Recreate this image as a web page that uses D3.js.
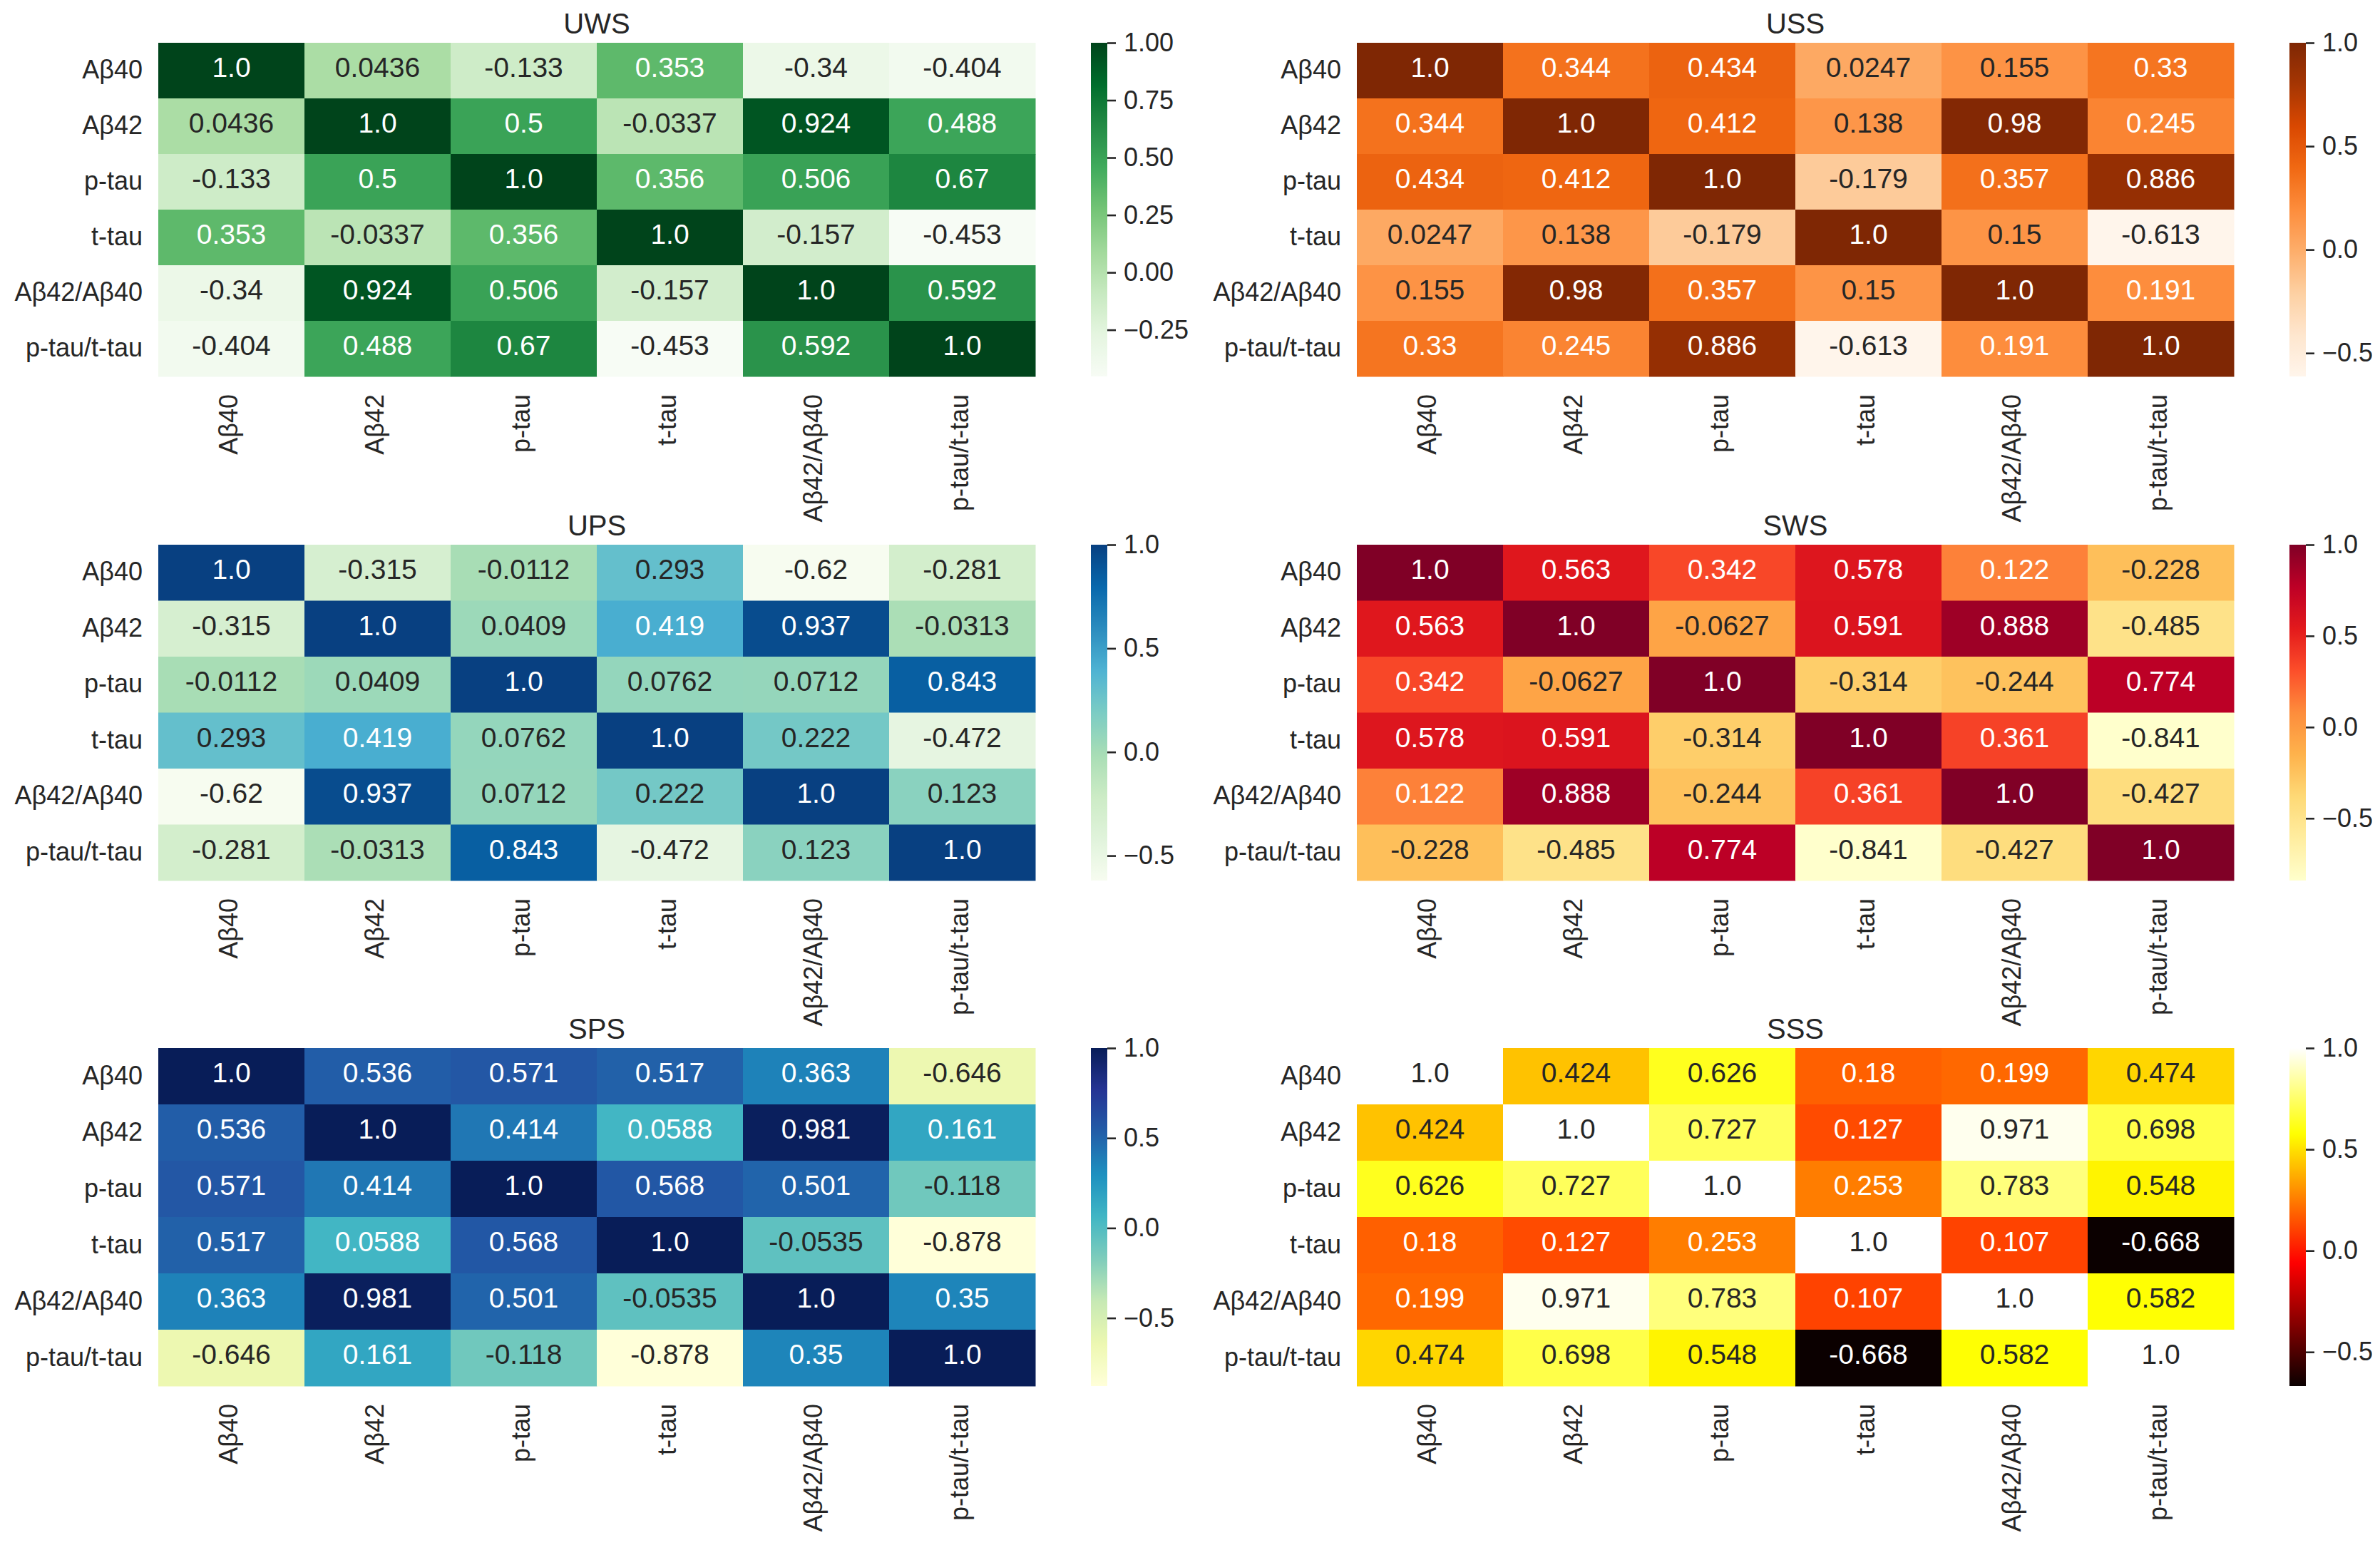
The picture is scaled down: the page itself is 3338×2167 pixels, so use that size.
<!DOCTYPE html>
<html><head><meta charset="utf-8">
<script src="https://cdn.jsdelivr.net/npm/d3@7"></script>
<style>body{margin:0;background:#fff} svg{display:block}</style>
</head><body><svg id="c" width="3338" height="2167"></svg>
<script>
// ---------------- data ----------------
const categories = ["Aβ40","Aβ42","p-tau","t-tau","Aβ42/Aβ40","p-tau/t-tau"];

const uwsValues = [
  [1.0, 0.0436, -0.133, 0.353, -0.34, -0.404],
  [0.0436, 1.0, 0.5, -0.0337, 0.924, 0.488],
  [-0.133, 0.5, 1.0, 0.356, 0.506, 0.67],
  [0.353, -0.0337, 0.356, 1.0, -0.157, -0.453],
  [-0.34, 0.924, 0.506, -0.157, 1.0, 0.592],
  [-0.404, 0.488, 0.67, -0.453, 0.592, 1.0]
];
const ussValues = [
  [1.0, 0.344, 0.434, 0.0247, 0.155, 0.33],
  [0.344, 1.0, 0.412, 0.138, 0.98, 0.245],
  [0.434, 0.412, 1.0, -0.179, 0.357, 0.886],
  [0.0247, 0.138, -0.179, 1.0, 0.15, -0.613],
  [0.155, 0.98, 0.357, 0.15, 1.0, 0.191],
  [0.33, 0.245, 0.886, -0.613, 0.191, 1.0]
];
const upsValues = [
  [1.0, -0.315, -0.0112, 0.293, -0.62, -0.281],
  [-0.315, 1.0, 0.0409, 0.419, 0.937, -0.0313],
  [-0.0112, 0.0409, 1.0, 0.0762, 0.0712, 0.843],
  [0.293, 0.419, 0.0762, 1.0, 0.222, -0.472],
  [-0.62, 0.937, 0.0712, 0.222, 1.0, 0.123],
  [-0.281, -0.0313, 0.843, -0.472, 0.123, 1.0]
];
const swsValues = [
  [1.0, 0.563, 0.342, 0.578, 0.122, -0.228],
  [0.563, 1.0, -0.0627, 0.591, 0.888, -0.485],
  [0.342, -0.0627, 1.0, -0.314, -0.244, 0.774],
  [0.578, 0.591, -0.314, 1.0, 0.361, -0.841],
  [0.122, 0.888, -0.244, 0.361, 1.0, -0.427],
  [-0.228, -0.485, 0.774, -0.841, -0.427, 1.0]
];
const spsValues = [
  [1.0, 0.536, 0.571, 0.517, 0.363, -0.646],
  [0.536, 1.0, 0.414, 0.0588, 0.981, 0.161],
  [0.571, 0.414, 1.0, 0.568, 0.501, -0.118],
  [0.517, 0.0588, 0.568, 1.0, -0.0535, -0.878],
  [0.363, 0.981, 0.501, -0.0535, 1.0, 0.35],
  [-0.646, 0.161, -0.118, -0.878, 0.35, 1.0]
];
const sssValues = [
  [1.0, 0.424, 0.626, 0.18, 0.199, 0.474],
  [0.424, 1.0, 0.727, 0.127, 0.971, 0.698],
  [0.626, 0.727, 1.0, 0.253, 0.783, 0.548],
  [0.18, 0.127, 0.253, 1.0, 0.107, -0.668],
  [0.199, 0.971, 0.783, 0.107, 1.0, 0.582],
  [0.474, 0.698, 0.548, -0.668, 0.582, 1.0]
];

const cbTicksQuarter = [1.00, 0.75, 0.50, 0.25, 0.00, -0.25];
const cbLabelsQuarter = ["1.00","0.75","0.50","0.25","0.00","\u22120.25"];
const cbTicksHalf = [1.0, 0.5, 0.0, -0.5];
const cbLabelsHalf = ["1.0","0.5","0.0","\u22120.5"];

// ---------------- colormaps ----------------
const lin = s => d3.piecewise(d3.interpolateRgb, s);
const hot = t => {
  const a = 0.365079, b = 0.746032;
  const r = t < a ? 0.0416 + (1 - 0.0416) * t / a : 1;
  const g = t < a ? 0 : (t < b ? (t - a) / (b - a) : 1);
  const bl = t < b ? 0 : (t - b) / (1 - b);
  return d3.rgb(r * 255, g * 255, bl * 255).formatHex();
};

const panels = [
  {title:"UWS", values:uwsValues, cmap:lin(d3.schemeGreens[9]),  ticks:cbTicksQuarter, labels:cbLabelsQuarter, col:0, row:0},
  {title:"USS", values:ussValues, cmap:lin(d3.schemeOranges[9]), ticks:cbTicksHalf, labels:cbLabelsHalf, col:1, row:0},
  {title:"UPS", values:upsValues, cmap:lin(d3.schemeGnBu[9]),    ticks:cbTicksHalf, labels:cbLabelsHalf, col:0, row:1},
  {title:"SWS", values:swsValues, cmap:lin(d3.schemeYlOrRd[9]),  ticks:cbTicksHalf, labels:cbLabelsHalf, col:1, row:1},
  {title:"SPS", values:spsValues, cmap:lin(d3.schemeYlGnBu[9]),  ticks:cbTicksHalf, labels:cbLabelsHalf, col:0, row:2},
  {title:"SSS", values:sssValues, cmap:hot,                      ticks:cbTicksHalf, labels:cbLabelsHalf, col:1, row:2}
];

// ---------------- layout ----------------
const colLeft = [222, 1903];
const rowTop = [60, 764, 1470];
const rowH = [468, 471, 474];
const W = 1230;
const cbOffset = 1308, cbW = 23;
const txt = "#262626";
const FONT = "'Liberation Sans', Arial, sans-serif";

function lum(c) {
  const rgb = d3.rgb(c);
  const f = v => { v /= 255; return v <= 0.03928 ? v / 12.92 : Math.pow((v + 0.055) / 1.055, 2.4); };
  return 0.2126 * f(rgb.r) + 0.7152 * f(rgb.g) + 0.0722 * f(rgb.b);
}
const fmt = v => (v === 1 ? "1.0" : String(v));

const svg = d3.select("#c").style("font-family", FONT);
const defs = svg.append("defs");

panels.forEach((p, pi) => {
  const x0 = colLeft[p.col], y0 = rowTop[p.row], H = rowH[p.row];
  const flat = p.values.flat();
  const vmin = d3.min(flat), vmax = d3.max(flat);
  const norm = d3.scaleLinear().domain([vmin, vmax]).range([0, 1]).clamp(true);
  const color = v => p.cmap(norm(v));

  const x = d3.scaleBand().domain(categories).range([x0, x0 + W]);
  const y = d3.scaleBand().domain(categories).range([y0, y0 + H]);

  const g = svg.append("g");
  const cells = [];
  p.values.forEach((row, i) => row.forEach((v, j) => cells.push({r: categories[i], c: categories[j], v})));

  g.selectAll("rect.cell").data(cells).join("rect")
    .attr("x", d => x(d.c)).attr("y", d => y(d.r))
    .attr("width", x.bandwidth() + 0.5).attr("height", y.bandwidth() + 0.5)
    .attr("fill", d => color(d.v));

  g.selectAll("text.ann").data(cells).join("text")
    .attr("x", d => x(d.c) + x.bandwidth() / 2)
    .attr("y", d => y(d.r) + y.bandwidth() / 2)
    .attr("dy", "-0.12em")
    .attr("text-anchor", "middle").attr("dominant-baseline", "central")
    .attr("font-size", 39)
    .attr("fill", d => lum(color(d.v)) > 0.408 ? txt : "#ffffff")
    .text(d => fmt(d.v));

  // y labels
  g.selectAll("text.yl").data(categories).join("text")
    .attr("x", x0 - 22).attr("y", d => y(d) + y.bandwidth() / 2)
    .attr("dy", "-0.04em")
    .attr("text-anchor", "end").attr("dominant-baseline", "central")
    .attr("font-size", 36).attr("fill", txt).text(d => d);

  // x labels
  g.selectAll("text.xl").data(categories).join("text")
    .attr("transform", d => `translate(${x(d) + x.bandwidth() / 2},${y0 + H + 25}) rotate(-90)`)
    .attr("dy", "-0.12em")
    .attr("text-anchor", "end").attr("dominant-baseline", "central")
    .attr("font-size", 36).attr("fill", txt).text(d => d);

  // title
  g.append("text").attr("x", x0 + W / 2).attr("y", y0 - 13)
    .attr("text-anchor", "middle").attr("font-size", 40).attr("fill", txt).text(p.title);

  // colorbar
  const cx = x0 + cbOffset;
  const gid = "grad" + pi;
  const grad = defs.append("linearGradient").attr("id", gid)
    .attr("x1", 0).attr("y1", 1).attr("x2", 0).attr("y2", 0);
  d3.range(0, 101).forEach(k => {
    grad.append("stop").attr("offset", k / 100).attr("stop-color", p.cmap(k / 100));
  });
  g.append("rect").attr("x", cx).attr("y", y0).attr("width", cbW).attr("height", H)
    .attr("fill", `url(#${gid})`);

  const cs = d3.scaleLinear().domain([vmin, vmax]).range([y0 + H, y0]);
  const axis = d3.axisRight(cs).tickValues(p.ticks)
    .tickFormat((d, i) => p.labels[i]).tickSize(12).tickPadding(11);
  const ag = g.append("g").attr("transform", `translate(${cx + cbW},0)`).call(axis);
  ag.select(".domain").remove();
  ag.selectAll(".tick line").attr("stroke", txt).attr("stroke-width", 2.6);
  ag.selectAll(".tick text").attr("font-size", 36).attr("fill", txt)
    .attr("font-family", FONT).attr("dy", "0.32em");
});
</script></body></html>
